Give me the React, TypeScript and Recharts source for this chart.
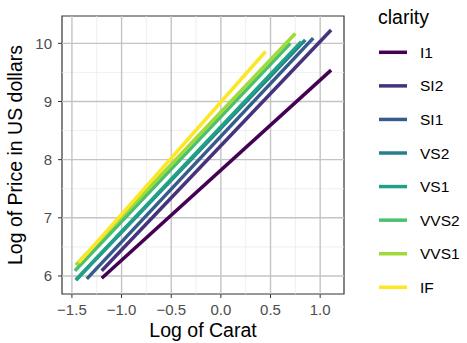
import { LineChart, Line, XAxis, YAxis, ReferenceLine, ReferenceArea } from 'recharts'

const CLARITY = ['I1', 'SI2', 'SI1', 'VS2', 'VS1', 'VVS2', 'VVS1', 'IF']
const COLORS = ['#440154', '#46337E', '#365C8D', '#277F8E', '#1FA187', '#4AC16D', '#9FDA3A', '#FDE725']

// fitted line endpoints per clarity: [log carat, log price]
const I1 = [{ x: -1.2, y: 5.96 }, { x: 1.11, y: 9.54 }]
const SI2 = [{ x: -1.2, y: 6.09 }, { x: 1.11, y: 10.23 }]
const SI1 = [{ x: -1.35, y: 5.95 }, { x: 0.93, y: 10.09 }]
const VS2 = [{ x: -1.46, y: 5.93 }, { x: 0.85, y: 10.06 }]
const VS1 = [{ x: -1.46, y: 5.93 }, { x: 0.81, y: 10.03 }]
const VVS2 = [{ x: -1.47, y: 6.09 }, { x: 0.7, y: 10.0 }]
const VVS1 = [{ x: -1.46, y: 6.19 }, { x: 0.75, y: 10.17 }]
const IF = [{ x: -1.43, y: 6.23 }, { x: 0.45, y: 9.86 }]
const SERIES = [I1, SI2, SI1, VS2, VS1, VVS2, VVS1, IF]

const X_TICKS = [-1.5, -1, -0.5, 0, 0.5, 1]
const Y_TICKS = [6, 7, 8, 9, 10]
const X_MINOR = [-1.25, -0.75, -0.25, 0.25, 0.75]
const Y_MINOR = [6.5, 7.5, 8.5, 9.5]

const X_DOMAIN: [number, number] = [-1.6, 1.24]
const Y_DOMAIN: [number, number] = [5.69, 10.47]

const FONT = '"Liberation Sans", Arial, sans-serif'
const TICK = { fontSize: 15, fill: '#4d4d4d', fontFamily: FONT }

function fmtX(v: number) {
  const s = v.toFixed(1)
  return v < 0 ? '\u2212' + s.slice(1) : s
}

// legend drawn by hand, ggplot style
function LegendBox() {
  return (
    <svg width={467} height={343} style={{ position: 'absolute', left: 0, top: 0, pointerEvents: 'none' }}>
      <text x={378} y={24} fontSize={19.5} fontFamily={FONT} fill="#000">clarity</text>
      {CLARITY.map((c, i) => {
        const cy = 52.3 + i * 33.57
        return (
          <g key={c}>
            <line x1={379} x2={407} y1={cy} y2={cy} stroke={COLORS[i]} strokeWidth={3.5} />
            <text x={420} y={cy} dominantBaseline="central" fontSize={15.5} fontFamily={FONT} fill="#000">{c}</text>
          </g>
        )
      })}
    </svg>
  )
}

export default function App() {
  return (
    <div style={{ position: 'absolute', left: 0, top: 0, width: 467, height: 343, background: '#fff' }}>
      <LineChart width={467} height={343} margin={{ top: 16, right: 123, bottom: 0, left: 0 }}>
        <XAxis
          type="number"
          dataKey="x"
          domain={X_DOMAIN}
          ticks={X_TICKS}
          tickFormatter={fmtX}
          allowDataOverflow
          axisLine={false}
          tickLine={{ stroke: '#333333' }}
          tickSize={4}
          tickMargin={6}
          tick={TICK}
          height={49}
          label={{ value: 'Log of Carat', position: 'insideBottom', offset: 6, fontSize: 19.5, fill: '#000', fontFamily: FONT }}
        />
        <YAxis
          type="number"
          dataKey="y"
          domain={Y_DOMAIN}
          ticks={Y_TICKS}
          allowDataOverflow
          axisLine={false}
          tickLine={{ stroke: '#333333' }}
          tickSize={4}
          tickMargin={6}
          tick={TICK}
          width={62}
          label={{
            value: 'Log of Price in US dollars', angle: -90, position: 'insideLeft', offset: 15,
            fontSize: 19.5, fill: '#000', fontFamily: FONT, style: { textAnchor: 'middle' },
          }}
        />
        {X_MINOR.map((v) => <ReferenceLine key={'xm' + v} x={v} stroke="#ebebeb" strokeWidth={0.8} />)}
        {Y_MINOR.map((v) => <ReferenceLine key={'ym' + v} y={v} stroke="#ebebeb" strokeWidth={0.8} />)}
        {X_TICKS.map((v) => <ReferenceLine key={'x' + v} x={v} stroke="#c4c4c4" strokeWidth={1.4} />)}
        {Y_TICKS.map((v) => <ReferenceLine key={'y' + v} y={v} stroke="#c4c4c4" strokeWidth={1.4} />)}
        {SERIES.map((d, i) => (
          <Line
            key={CLARITY[i]}
            data={d}
            dataKey="y"
            name={CLARITY[i]}
            stroke={COLORS[i]}
            strokeWidth={3.5}
            strokeLinecap="butt"
            dot={false}
            activeDot={false}
            type="linear"
            isAnimationActive={false}
          />
        ))}
        <ReferenceArea
          x1={X_DOMAIN[0]} x2={X_DOMAIN[1]} y1={Y_DOMAIN[0]} y2={Y_DOMAIN[1]}
          fill="none" fillOpacity={0} stroke="#333333" strokeWidth={1.2}
        />
      </LineChart>
      <LegendBox />
    </div>
  )
}
